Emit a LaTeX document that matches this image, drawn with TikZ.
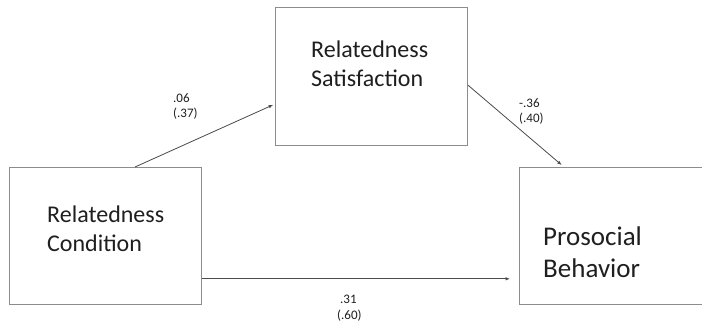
\documentclass[tikz,border=0pt]{standalone}
\usepackage{fontspec}
\setmainfont{Carlito}
\usetikzlibrary{arrows.meta}
\definecolor{boxline}{gray}{0.55}
\definecolor{arrline}{gray}{0.3}
\definecolor{txt}{gray}{0.12}
\begin{document}
\begin{tikzpicture}[x=1pt,y=-1pt,
  box/.style={draw=boxline,line width=0.8pt,anchor=north west,inner sep=0pt,minimum width=#1},
  bigtext/.style={text=txt,font=\fontsize{24}{29}\selectfont,align=left,anchor=west,inner sep=0pt},
  hugetext/.style={text=txt,font=\fontsize{27}{31.5}\selectfont,align=left,anchor=west,inner sep=0pt},
  coef/.style={text=txt,font=\fontsize{13}{15.5}\selectfont,align=left,anchor=west,inner sep=0pt},
  conn/.style={draw=arrline,line width=0.8pt,-{Latex[length=4.5pt,width=3.5pt]}}]
\useasboundingbox (0,0) rectangle (702,326);
\fill[white] (0,0) rectangle (702,326);
\node[box=192pt,minimum height=137pt] (b1) at (9,167) {};
\node[box=192pt,minimum height=138pt] (b2) at (275,7) {};
\node[box=186pt,minimum height=137pt] (b3) at (519,167) {};
\node[bigtext] (t1) at (47,229) {Relatedness\\Condition};
\node[bigtext] (t2) at (311,64) {Relatedness\\Satisfaction};
\node[hugetext] (t3) at (543,252) {Prosocial\\Behavior};
\draw[conn,shorten >=2pt] ([xshift=126pt]b1.north west) -- ([yshift=-97pt]b2.north west);
\draw[conn,shorten >=3pt] ([yshift=-78pt]b2.north east) -- ([xshift=45pt]b3.north west);
\draw[conn,shorten >=9pt] ([yshift=26pt]b1.south east) -- ([yshift=26pt]b3.south west);
\node[coef] (c1) at (173,106.5) {.06\\(.37)};
\node[coef] (c2) at (519,111.5) {-.36\\(.40)};
\node[coef] (c3) at (337,308) {\hspace*{3pt}.31\\(.60)};
\end{tikzpicture}
\end{document}
